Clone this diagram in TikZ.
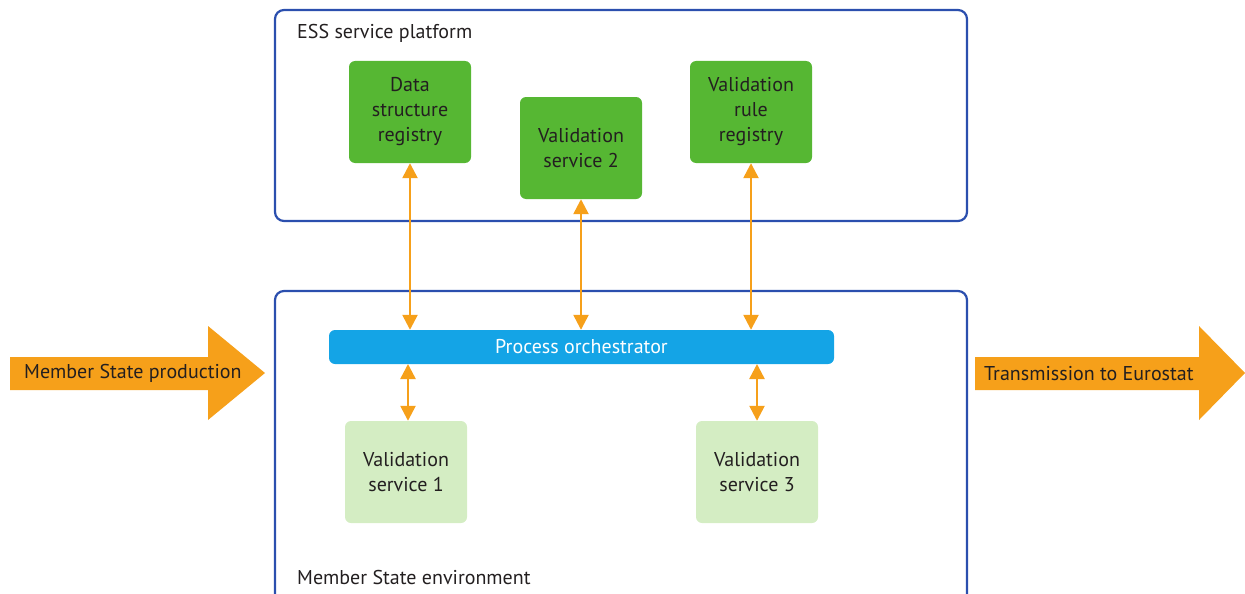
\documentclass[tikz,border=0pt]{standalone}
\usepackage{fontspec}
\setmainfont{PT Sans}
\usetikzlibrary{arrows.meta,shapes.arrows}
\definecolor{frameblue}{HTML}{2B4FAE}
\definecolor{dgreen}{HTML}{56B733}
\definecolor{lgreen}{HTML}{D4EDC3}
\definecolor{pblue}{HTML}{14A4E6}
\definecolor{orng}{HTML}{F6A01A}
\definecolor{txt}{HTML}{231F20}
\tikzset{
  frame/.style={draw=frameblue,line width=2.2pt,rounded corners=9pt},
  svcbox/.style={fill=dgreen,rounded corners=6pt,minimum width=122pt,minimum height=102pt,align=center,text=txt,font=\fontsize{20}{25}\selectfont,inner sep=0pt},
  locbox/.style={fill=lgreen,rounded corners=6pt,minimum width=122pt,minimum height=102pt,align=center,text=txt,font=\fontsize{20}{25}\selectfont,inner sep=0pt},
  biarrow/.style={draw=orng,line width=2.5pt,{Triangle[width=15pt,length=15pt]}-{Triangle[width=15pt,length=15pt]}},
  lbl/.style={text=txt,font=\fontsize{20}{24}\selectfont,anchor=west,inner sep=0pt},
}
\begin{document}
\begin{tikzpicture}[x=1pt,y=-1pt]
\useasboundingbox (0,0) rectangle (1245,594);
% frames
\draw[frame] (275,10) rectangle (967,221);
\begin{scope}
\clip (0,0) rectangle (1245,594);
\draw[frame] (275,291) rectangle (967,640);
\end{scope}
\node[lbl] (esslbl) at (297,33) {ESS service platform};
\node[lbl] (mslbl) at (297,577) {Member State environment};
% top services
\node[svcbox] (dsr) at (410,112) {Data\\structure\\registry};
\node[svcbox] (vs2) at (581,148) {Validation\\service 2};
\node[svcbox] (vrr) at (751,112) {Validation\\rule\\registry};
% orchestrator
\node[fill=pblue,rounded corners=6pt,minimum width=505pt,minimum height=34pt,inner sep=0pt,text=white,font=\fontsize{20}{24}\selectfont] (po) at (581.5,347) {Process orchestrator};
% local services
\node[locbox] (vs1) at (406,472) {Validation\\service 1};
\node[locbox] (vs3) at (757,472) {Validation\\service 3};
% connectors
\draw[biarrow] (dsr.south) -- (dsr.south |- po.north);
\draw[biarrow] (vs2.south) -- (vs2.south |- po.north);
\draw[biarrow] (vrr.south) -- (vrr.south |- po.north);
\draw[biarrow] (408,364) coordinate (a1) -- (a1 |- vs1.north);
\draw[biarrow] (757,364) coordinate (a3) -- (a3 |- vs3.north);
% big arrows
\fill[orng] (10,357) -- (208,357) -- (208,326) -- (265,373) -- (208,420) -- (208,390) -- (10,390) -- cycle;
\node[text=txt,font=\fontsize{20}{24}\selectfont,inner sep=0pt,anchor=west] (msp) at (24,373.5) {Member State production};
\fill[orng] (975,357) -- (1199,357) -- (1199,326) -- (1245,373) -- (1199,420) -- (1199,390) -- (975,390) -- cycle;
\node[text=txt,font=\fontsize{20}{24}\selectfont,inner sep=0pt,anchor=west] (tte) at (984,373.5) {Transmission to Eurostat};
\end{tikzpicture}
\end{document}
